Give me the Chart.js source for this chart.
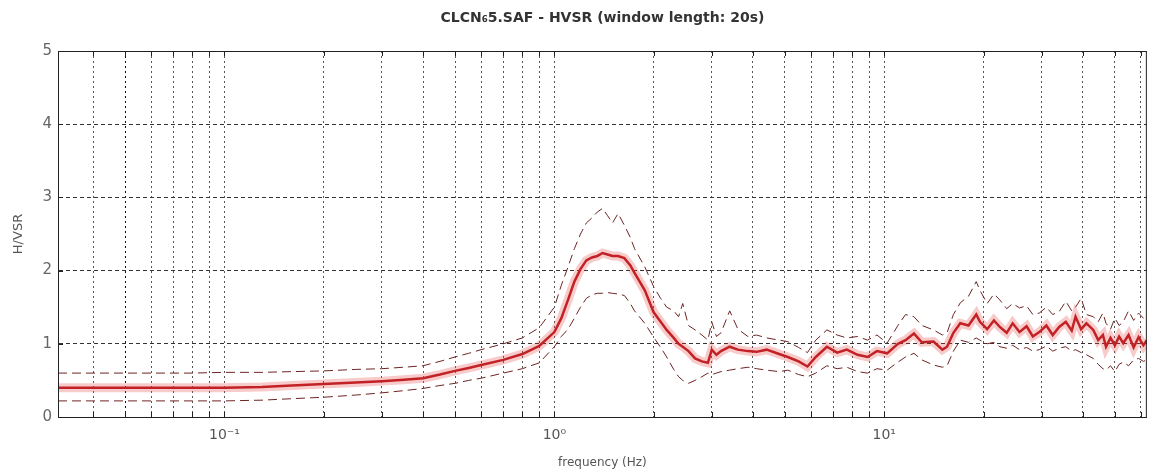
<!DOCTYPE html>
<html>
<head>
<meta charset="utf-8">
<script src="https://cdn.jsdelivr.net/npm/chart.js@4.4.0/dist/chart.umd.min.js"></script>
<style>
  body { margin: 0; background: #fff; }
</style>
</head>
<body>
<canvas id="hvsrChart" width="1151" height="473"></canvas>
<script>
// frequency (Hz) and H/V curves
const freqs = [0.0313, 0.05, 0.08, 0.1, 0.13, 0.16, 0.2, 0.25, 0.3, 0.35, 0.4, 0.45, 0.5, 0.55, 0.6, 0.7, 0.8, 0.9,
  1.0, 1.05, 1.1, 1.15, 1.2, 1.25, 1.3, 1.35, 1.4, 1.45, 1.5, 1.56, 1.63, 1.7, 1.75, 1.88, 2.0, 2.1, 2.19, 2.3, 2.38,
  2.45, 2.55, 2.67, 2.8, 2.92, 3.0, 3.1, 3.2, 3.4, 3.6, 3.86, 4.1, 4.4, 4.8, 5.1, 5.5, 5.85, 6.2, 6.7, 7.2, 7.7, 8.3,
  8.9, 9.5, 10.2, 11.0, 11.6, 12.3, 13.0, 14.1, 15.0, 15.5, 16.2, 17.0, 18.0, 19.0, 19.5, 20.5, 21.5, 22.4, 23.5,
  24.5, 25.7, 27.0, 28.2, 29.5, 31.0, 32.4, 33.9, 35.5, 37.0, 38.0, 39.5, 41.0, 43.0, 44.5, 46.0, 47.0, 48.5, 50.0,
  51.5, 53.0, 55.0, 57.0, 59.0, 61.0, 62.5];
const hvMean = [0.40, 0.40, 0.40, 0.40, 0.41, 0.43, 0.45, 0.47, 0.49, 0.51, 0.53, 0.58, 0.63, 0.67, 0.71, 0.78, 0.86, 0.97,
  1.16, 1.35, 1.60, 1.85, 2.02, 2.14, 2.18, 2.20, 2.24, 2.22, 2.20, 2.20, 2.17, 2.07, 1.97, 1.73, 1.43, 1.30, 1.19, 1.08, 1.00,
  0.96, 0.90, 0.80, 0.76, 0.74, 0.92, 0.85, 0.90, 0.96, 0.92, 0.90, 0.89, 0.92, 0.86, 0.82, 0.76, 0.69, 0.82, 0.96, 0.88, 0.92, 0.85,
  0.82, 0.90, 0.87, 1.00, 1.05, 1.14, 1.02, 1.03, 0.92, 0.96, 1.15, 1.28, 1.25, 1.40, 1.30, 1.20, 1.32, 1.23, 1.15,
  1.28, 1.16, 1.24, 1.10, 1.16, 1.25, 1.12, 1.23, 1.30, 1.18, 1.37, 1.20, 1.28, 1.19, 1.05, 1.12, 0.96, 1.08, 0.98,
  1.10, 1.01, 1.12, 0.95, 1.09, 0.98, 1.05];
const hvUpper = [0.60, 0.60, 0.60, 0.61, 0.61, 0.62, 0.63, 0.65, 0.66, 0.68, 0.70, 0.76, 0.82, 0.87, 0.92, 1.00, 1.08, 1.22,
  1.50, 1.80, 2.05, 2.30, 2.50, 2.65, 2.72, 2.80, 2.85, 2.75, 2.65, 2.78, 2.62, 2.45, 2.30, 2.05, 1.78, 1.62, 1.50, 1.45, 1.37,
  1.55, 1.25, 1.19, 1.12, 1.05, 1.30, 1.10, 1.15, 1.45, 1.20, 1.10, 1.12, 1.08, 1.05, 1.03, 0.95, 0.88, 1.05, 1.19, 1.12, 1.08, 1.10,
  1.05, 1.12, 1.01, 1.25, 1.40, 1.37, 1.25, 1.19, 1.12, 1.15, 1.40, 1.56, 1.65, 1.85, 1.73, 1.55, 1.68, 1.60, 1.48,
  1.55, 1.49, 1.52, 1.40, 1.42, 1.50, 1.40, 1.44, 1.58, 1.45, 1.50, 1.62, 1.40, 1.37, 1.30, 1.42, 1.28, 1.20, 1.35,
  1.25, 1.30, 1.45, 1.32, 1.42, 1.35, 1.30];
const hvLower = [0.22, 0.22, 0.22, 0.22, 0.23, 0.25, 0.27, 0.30, 0.33, 0.36, 0.39, 0.43, 0.46, 0.50, 0.53, 0.60, 0.66, 0.74,
  0.96, 1.10, 1.20, 1.35, 1.50, 1.62, 1.67, 1.69, 1.69, 1.70, 1.69, 1.68, 1.66, 1.55, 1.45, 1.28, 1.09, 0.95, 0.82, 0.65, 0.55,
  0.50, 0.46, 0.50, 0.55, 0.60, 0.58, 0.60, 0.62, 0.64, 0.66, 0.68, 0.66, 0.64, 0.62, 0.64, 0.58, 0.55, 0.60, 0.70, 0.66, 0.68, 0.62,
  0.60, 0.66, 0.64, 0.75, 0.82, 0.87, 0.78, 0.71, 0.68, 0.70, 0.90, 1.05, 1.02, 1.08, 1.05, 1.00, 1.02, 0.96, 0.94,
  0.98, 0.92, 0.95, 0.90, 0.92, 0.97, 0.90, 0.94, 0.96, 0.90, 0.92, 0.88, 0.85, 0.80, 0.72, 0.66, 0.64, 0.70, 0.62,
  0.72, 0.75, 0.70, 0.78, 0.80, 0.76, 0.78];

// grid positions and labels
const xGrid = [0.04, 0.05, 0.06, 0.07, 0.08, 0.09, 0.1, 0.2, 0.3, 0.4, 0.5, 0.6, 0.7, 0.8, 0.9,
  1, 2, 3, 4, 5, 6, 7, 8, 9, 10, 20, 30, 40, 50, 60];
const xLabels = { 0.1: '10\u207B\u00B9', 1: '10\u2070', 10: '10\u00B9' };
const yTicks = [0, 1, 2, 3, 4, 5];

const toPoints = vals => freqs.map((f, i) => ({ x: f, y: vals[i] }));

const frame = {
  id: 'frame',
  afterDraw(chart) {
    const { ctx, chartArea: a, scales } = chart;
    ctx.save();
    ctx.strokeStyle = '#222';
    ctx.lineWidth = 1;
    ctx.strokeRect(a.left + 0.5, a.top + 0.5, a.right - a.left - 1, a.bottom - a.top);
    // small inward ticks like the original
    ctx.beginPath();
    scales.x.ticks.forEach(t => {
      const px = Math.round(scales.x.getPixelForValue(t.value)) + 0.5;
      ctx.moveTo(px, a.bottom); ctx.lineTo(px, a.bottom - 5);
      ctx.moveTo(px, a.top); ctx.lineTo(px, a.top + 5);
    });
    scales.y.ticks.forEach(t => {
      const py = Math.round(scales.y.getPixelForValue(t.value)) + 0.5;
      ctx.moveTo(a.left, py); ctx.lineTo(a.left + 5, py);
    });
    ctx.stroke();

    ctx.fillStyle = '#333';
    ctx.textAlign = 'center';
    ctx.textBaseline = 'middle';
    ctx.font = 'bold 14px "DejaVu Sans"';
    ctx.fillText('CLCN\u20865.SAF - HVSR (window length: 20s)', (a.left + a.right) / 2, 18);
    ctx.font = '12px "DejaVu Sans"';
    ctx.fillStyle = '#555';
    ctx.fillText('frequency (Hz)', (a.left + a.right) / 2, 463);
    ctx.translate(19, 234);
    ctx.rotate(-Math.PI / 2);
    ctx.font = '13px "DejaVu Sans"';
    ctx.fillText('H/VSR', 0, 0);
    ctx.restore();
  }
};

const ctx = document.getElementById('hvsrChart').getContext('2d');
new Chart(ctx, {
  type: 'line',
  data: {
    datasets: [
      {
        label: 'spread',
        data: toPoints(hvMean),
        borderColor: 'rgba(230, 70, 70, 0.28)',
        borderWidth: 9,
        pointRadius: 0,
        tension: 0
      },
      {
        label: 'H/V + std',
        data: toPoints(hvUpper),
        borderColor: '#6e2424',
        borderWidth: 1,
        borderDash: [9, 5],
        pointRadius: 0,
        tension: 0
      },
      {
        label: 'H/V - std',
        data: toPoints(hvLower),
        borderColor: '#6e2424',
        borderWidth: 1,
        borderDash: [9, 5],
        pointRadius: 0,
        tension: 0
      },
      {
        label: 'H/V',
        data: toPoints(hvMean),
        borderColor: '#b5141b',
        borderWidth: 2.5,
        pointRadius: 0,
        tension: 0
      }
    ]
  },
  options: {
    responsive: false,
    animation: false,
    layout: { padding: { top: 51, left: 0, right: 0, bottom: 0 } },
    plugins: {
      legend: { display: false },
      tooltip: { enabled: false },
      title: { display: false }
    },
    scales: {
      x: {
        type: 'logarithmic',
        min: 0.0313,
        max: 62.5,
        afterBuildTicks: scale => { scale.ticks = xGrid.map(v => ({ value: v })); },
        afterFit: scale => { scale.height = 56; },
        grid: {
          color: v => (v.tick && v.tick.value === 0.05) ? '#111' : '#555',
          lineWidth: 1,
          drawTicks: false
        },
        border: { display: true, color: '#222', dash: [2, 3] },
        ticks: {
          autoSkip: false,
          maxRotation: 0,
          padding: 10,
          color: '#555',
          font: { family: 'DejaVu Sans', size: 14 },
          callback: v => xLabels[v] || ''
        }
      },
      y: {
        min: 0,
        max: 5,
        afterBuildTicks: scale => { scale.ticks = yTicks.map(v => ({ value: v })); },
        afterFit: scale => { scale.width = 58; },
        grid: { color: '#333', lineWidth: 1, drawTicks: false },
        border: { display: true, color: '#222', dash: [4, 3] },
        ticks: {
          padding: 6,
          color: '#666',
          font: { family: 'DejaVu Sans', size: 15 }
        }
      }
    }
  },
  plugins: [frame]
});
</script>
</body>
</html>
